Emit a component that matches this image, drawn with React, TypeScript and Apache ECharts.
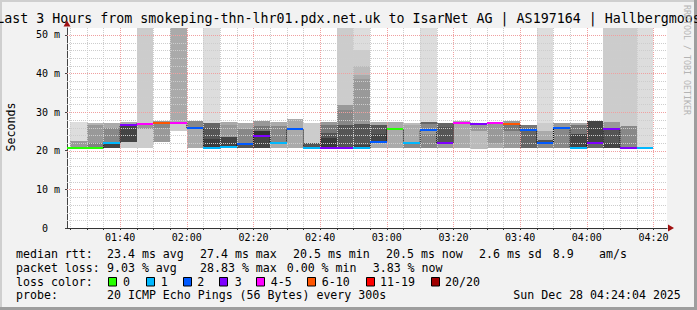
import { useEffect, useRef } from 'react';
import * as echarts from 'echarts';

// ---------- data ----------
const blockTimes = [
  '01:20', '01:25', '01:30', '01:35', '01:40', '01:45', '01:50', '01:55',
  '02:00', '02:05', '02:10', '02:15', '02:20', '02:25', '02:30', '02:35',
  '02:40', '02:45', '02:50', '02:55', '03:00', '03:05', '03:10', '03:15',
  '03:20', '03:25', '03:30', '03:35', '03:40', '03:45', '03:50', '03:55',
  '04:00', '04:05', '04:10', '04:15',
];
const medianRtt = [
  20.6, 20.6, 20.7, 22.0, 26.6, 27.0, 27.3, 27.3,
  25.9, 20.6, 20.9, 21.7, 23.8, 22.1, 25.5, 20.6,
  20.8, 20.8, 20.8, 22.3, 25.5, 21.9, 25.3, 22.0,
  27.1, 27.0, 27.1, 26.8, 25.3, 22.0, 25.8, 20.8,
  21.9, 25.7, 20.6, 20.6,
];
// index into lossLabels
const lossClass = [
  0, 0, 0, 1, 3, 4, 5, 4,
  2, 1, 1, 2, 3, 1, 2, 1,
  3, 3, 1, 2, 0, 1, 2, 3,
  4, 3, 4, 5, 2, 2, 2, 1,
  3, 3, 3, 1,
];
// smoke bands per block: [low ms, high ms, grey density 0-255]
const smoke: number[][][] = [
  [],
  [[22.4, 27.5, 221], [20.7, 22.4, 153]],
  [[26.6, 27.2, 180], [22.0, 26.6, 153], [20.8, 22.0, 128]],
  [[26.0, 27.1, 170], [22.0, 26.0, 136], [20.6, 22.0, 68]],
  [[26.6, 27.5, 170], [22.2, 26.6, 68], [20.6, 22.2, 204]],
  [[27.0, 51.8, 204], [25.6, 27.0, 153], [20.6, 25.6, 204]],
  [[27.3, 27.8, 153], [26.0, 27.3, 136], [22.2, 26.0, 153]],
  [[27.3, 51.8, 170], [25.0, 27.3, 204]],
  [[26.2, 27.6, 136], [25.9, 26.2, 136], [20.6, 25.9, 170]],
  [[27.3, 51.8, 221], [26.0, 27.3, 102], [23.0, 26.0, 85], [20.6, 23.0, 60]],
  [[26.7, 27.5, 170], [23.5, 26.7, 153], [20.9, 23.5, 68]],
  [[25.5, 27.3, 170], [21.7, 25.5, 136], [20.6, 21.7, 85]],
  [[26.4, 27.8, 153], [25.0, 26.4, 119], [23.8, 25.0, 51], [20.6, 23.8, 68]],
  [[26.4, 27.4, 170], [22.1, 26.4, 136], [20.6, 22.1, 170]],
  [[25.5, 28.2, 170], [20.6, 25.5, 170]],
  [[22.0, 27.1, 204], [20.6, 22.0, 85]],
  [[26.6, 27.5, 153], [24.6, 26.6, 119], [23.3, 24.6, 85], [20.8, 23.3, 58]],
  [[31.9, 51.8, 204], [30.5, 31.9, 153], [26.7, 30.5, 136], [20.8, 26.7, 85]],
  [[46.1, 51.8, 221], [41.8, 46.1, 204], [39.7, 41.8, 187], [38.6, 39.7, 170], [27.0, 38.6, 153], [21.5, 27.0, 85], [20.8, 21.5, 68]],
  [[26.7, 27.5, 170], [24.2, 26.7, 85], [22.3, 24.2, 68], [20.6, 22.3, 170]],
  [[25.5, 27.5, 170], [20.6, 25.5, 170]],
  [[26.6, 27.3, 187], [21.9, 26.6, 170], [20.6, 21.9, 136]],
  [[27.5, 51.8, 221], [26.8, 27.5, 102], [25.3, 26.8, 136], [24.2, 25.3, 153], [20.6, 24.2, 136]],
  [[26.1, 27.3, 102], [22.0, 26.1, 85], [20.6, 22.0, 153]],
  [[27.1, 27.7, 170], [20.6, 27.1, 170]],
  [[25.0, 27.0, 153], [20.5, 25.0, 187]],
  [[22.0, 27.1, 153], [20.6, 22.0, 170]],
  [[26.8, 27.6, 153], [25.0, 26.8, 119], [20.6, 25.0, 153]],
  [[25.3, 26.7, 119], [20.6, 25.3, 102]],
  [[27.3, 51.8, 221], [25.0, 27.3, 204], [22.7, 25.0, 170], [22.0, 22.7, 85], [20.6, 22.0, 136]],
  [[25.8, 27.2, 153], [20.6, 25.8, 136]],
  [[26.6, 27.2, 170], [24.3, 26.6, 119], [20.8, 24.3, 68]],
  [[21.9, 27.6, 68], [20.6, 21.9, 102]],
  [[27.5, 51.8, 204], [25.7, 27.5, 153], [21.9, 25.7, 85], [20.6, 21.9, 68]],
  [[26.3, 51.8, 204], [20.6, 26.3, 136]],
  [[20.6, 51.8, 221]],
];
const lossLabels = ['0', '1', '2', '3', '4-5', '6-10', '11-19', '20/20'];
const lossColors = ['#26ff00', '#00b8ff', '#0059ff', '#7e00ff', '#ff00ff', '#ff5500', '#ff0000', '#a10000'];
const xTickLabels = ['01:40', '02:00', '02:20', '02:40', '03:00', '03:20', '03:40', '04:00', '04:20'];
const yTickValues = [0, 10, 20, 30, 40, 50];
const titleText = 'Last 3 Hours from smokeping-thn-lhr01.pdx.net.uk to IsarNet AG | AS197164 | Hallbergmoos';
const rttStats = ['median rtt:', '23.4 ms avg', '27.4 ms max', '20.5 ms min', '20.5 ms now', '2.6 ms sd', '8.9', 'am/s'];
const lossStats = ['packet loss:', '9.03 % avg', '28.83 % max', '0.00 % min', '3.83 % now'];
const probeTexts = ['probe:', '20 ICMP Echo Pings (56 Bytes) every 300s', 'Sun Dec 28 04:24:04 2025'];

// ---------- layout ----------
const W = 697;
const H = 310;
const toMin = (s: string) => {
  const [h, m] = s.split(':').map(Number);
  return h * 60 + m;
};
const T0 = toMin('01:24') + 4 / 60;
const T1 = T0 + 180;
const Y_MAX = 51.76;
const STEP = 5;
const GRID = { left: 67, top: 28, width: 600, height: 200 };
const rttX = [16, 107, 200, 293, 386, 479, 552.7, 599];
const lossX = [16, 107, 200, 286.7, 372.7];
const boxX = [108.3, 145.7, 182.7, 219.3, 256, 307.3, 365.7, 430.7];
const boxTextX = [123, 160.7, 197.3, 234.7, 270.7, 321.7, 380, 445];
const probeX = [16, 107, 513.3];
const LINE_Y = [253.7, 267.7, 281.7, 295.3];
const MONO = '"DejaVu Sans Mono", monospace';

const fmtTime = (v: number) => {
  const h = Math.floor(v / 60);
  const m = Math.round(v - h * 60);
  return `${String(h).padStart(2, '0')}:${String(m).padStart(2, '0')}`;
};

export default function App() {
  const ref = useRef<HTMLDivElement>(null);
  useEffect(() => {
    if (!ref.current) return;
    const chart = echarts.init(ref.current, undefined, { renderer: 'svg' });

    const xTickValues = xTickLabels.map(toMin);
    const minorTicks: number[] = [];
    for (let t = toMin('01:25'); t <= toMin('04:20'); t += STEP) minorTicks.push(t);
    const yGrid: number[] = [];
    for (let v = 2; v <= 50; v += 2) yGrid.push(v);

    const blockData = blockTimes.map((t, i) => [toMin(t), toMin(t) + STEP, medianRtt[i], lossClass[i], i]);
    const stepData = blockTimes.map((t, i) => [Math.max(toMin(t), T0), medianRtt[i]]);
    stepData.push([toMin(blockTimes[blockTimes.length - 1]) + STEP, medianRtt[medianRtt.length - 1]]);

    const txt = (text: string, x: number, y: number, size: number, extra: any = {}) => ({
      type: 'text',
      x,
      y,
      silent: true,
      style: {
        text,
        fill: '#000',
        font: `${size}px ${MONO}`,
        textAlign: 'left',
        textVerticalAlign: 'middle',
        ...(extra.style || {}),
      },
      ...(extra.el || {}),
    });

    const graphics: any[] = [
      // frame
      { type: 'rect', shape: { x: 0, y: 0, width: W, height: 2 }, style: { fill: '#cfcfcf' }, silent: true },
      { type: 'rect', shape: { x: 0, y: 0, width: 2, height: H }, style: { fill: '#cfcfcf' }, silent: true },
      { type: 'rect', shape: { x: W - 3, y: 0, width: 3, height: H }, style: { fill: '#9e9e9e' }, silent: true },
      { type: 'rect', shape: { x: 0, y: H - 3, width: W, height: 3 }, style: { fill: '#9e9e9e' }, silent: true },
      txt(titleText, 348.5, 18.7, 13.3, { style: { textAlign: 'center' } }),
      txt('Seconds', 11, 127, 11.6, { style: { textAlign: 'center' }, el: { rotation: Math.PI / 2 } }),
      txt('RRDTOOL / TOBI OETIKER', 687.2, 60, 8.3, { style: { textAlign: 'center', fill: '#b4b4b4' }, el: { rotation: -Math.PI / 2 } }),
      // axis arrows
      { type: 'polygon', shape: { points: [[GRID.left - 3.5, 26.5], [GRID.left + 3.5, 26.5], [GRID.left, 20.5]] }, style: { fill: '#a01010' }, silent: true },
      { type: 'polygon', shape: { points: [[668, GRID.top + GRID.height - 3.5], [668, GRID.top + GRID.height + 3.5], [674, GRID.top + GRID.height]] }, style: { fill: '#a01010' }, silent: true },
    ];
    rttStats.forEach((s, i) => graphics.push(txt(s, rttX[i], LINE_Y[0], 11.6)));
    lossStats.forEach((s, i) => graphics.push(txt(s, lossX[i], LINE_Y[1], 11.6)));
    graphics.push(txt('loss color:', 16, LINE_Y[2], 11.6));
    lossLabels.forEach((s, i) => {
      graphics.push({
        type: 'rect',
        silent: true,
        shape: { x: Math.round(boxX[i]) + 0.5, y: 277.5, width: 8, height: 8.5 },
        style: { fill: lossColors[i], stroke: '#000', lineWidth: 1 },
      });
      graphics.push(txt(s, boxTextX[i], LINE_Y[2], 11.6));
    });
    probeTexts.forEach((s, i) => graphics.push(txt(s, probeX[i], LINE_Y[3], 11.6)));

    const option: any = {
      animation: false,
      backgroundColor: 'transparent',
      grid: {
        left: GRID.left,
        top: GRID.top,
        width: GRID.width,
        height: GRID.height,
        show: true,
        backgroundColor: '#ffffff',
        borderWidth: 0,
      },
      xAxis: {
        type: 'value',
        min: T0,
        max: T1,
        axisLine: { show: true, onZero: false, lineStyle: { color: '#333', width: 1 } },
        axisTick: { show: true, customValues: minorTicks, length: 2, lineStyle: { color: '#333' } },
        axisLabel: {
          customValues: xTickValues,
          formatter: (v: number) => fmtTime(v),
          fontFamily: MONO,
          fontSize: 10,
          color: '#000',
          margin: 4,
        },
        splitLine: { show: false },
      },
      yAxis: {
        type: 'value',
        min: 0,
        max: Y_MAX,
        axisLine: { show: true, lineStyle: { color: '#444', width: 1 } },
        axisTick: { show: true, customValues: yTickValues, length: 2, lineStyle: { color: '#444' } },
        axisLabel: {
          customValues: yTickValues,
          formatter: (v: number) => (v === 0 ? '{z|0}' : `${v} m`),
          fontFamily: MONO,
          fontSize: 10,
          color: '#000',
          margin: 7,
          rich: { z: { fontFamily: MONO, fontSize: 10, color: '#000', padding: [0, 12, 0, 0] } },
        },
        splitLine: { show: false },
      },
      graphic: { elements: graphics },
      series: [
        {
          name: 'smoke',
          type: 'custom',
          z: 2,
          silent: true,
          clip: true,
          data: blockData,
          renderItem: (params: any, api: any) => {
            const i = api.value(4);
            const s = Math.max(api.value(0), T0);
            const e = api.value(1);
            const children = smoke[i].map(([lo, hi, g]) => {
              const p0 = api.coord([s, Math.min(hi, Y_MAX)]);
              const p1 = api.coord([e, lo]);
              const x0 = Math.round(p0[0]);
              const x1 = Math.round(p1[0]);
              const y0 = Math.round(p0[1]);
              const y1 = Math.round(p1[1]);
              return {
                type: 'rect',
                shape: { x: x0, y: y0, width: x1 - x0, height: y1 - y0 },
                style: { fill: `rgb(${g},${g},${g})` },
              };
            });
            return { type: 'group', children };
          },
        },
        {
          name: 'grid',
          type: 'custom',
          z: 3,
          silent: true,
          data: [[T0, 0]],
          renderItem: (params: any, api: any) => {
            const cs = params.coordSys;
            const children: any[] = [];
            minorTicks.forEach((t) => {
              const major = t % 20 === 0;
              const x = Math.round(api.coord([t, 0])[0]) + 0.5;
              children.push({
                type: 'line',
                shape: { x1: x, y1: cs.y, x2: x, y2: cs.y + cs.height },
                style: { stroke: major ? '#f0a0a0' : '#cdcdcd', lineWidth: 1, lineDash: [1, 1] },
              });
            });
            yGrid.forEach((v) => {
              const major = v % 10 === 0;
              const y = Math.round(api.coord([T0, v])[1]) + 0.5;
              children.push({
                type: 'line',
                shape: { x1: cs.x, y1: y, x2: cs.x + cs.width, y2: y },
                style: { stroke: major ? '#f0a0a0' : '#cdcdcd', lineWidth: 1, lineDash: [1, 1] },
              });
            });
            return { type: 'group', children };
          },
        },
        {
          name: 'median step',
          type: 'line',
          z: 4,
          silent: true,
          step: 'end',
          showSymbol: false,
          data: stepData,
          lineStyle: { color: '#000', width: 1, type: [1, 1] },
        },
        {
          name: 'median',
          type: 'custom',
          z: 5,
          silent: true,
          data: blockData,
          renderItem: (params: any, api: any) => {
            const s = Math.max(api.value(0), T0);
            const e = api.value(1);
            const m = api.value(2);
            const c = lossColors[api.value(3)];
            const p0 = api.coord([s, m]);
            const p1 = api.coord([e, m]);
            const y = Math.round(p0[1]);
            return {
              type: 'line',
              shape: { x1: Math.round(p0[0]), y1: y, x2: Math.round(p1[0]), y2: y },
              style: { stroke: c, lineWidth: 2 },
            };
          },
        },
      ],
    };
    chart.setOption(option);
    return () => chart.dispose();
  }, []);

  return (
    <div
      ref={ref}
      style={{ position: 'fixed', left: 0, top: 0, width: W, height: H, background: '#f2f2f2' }}
    />
  );
}
